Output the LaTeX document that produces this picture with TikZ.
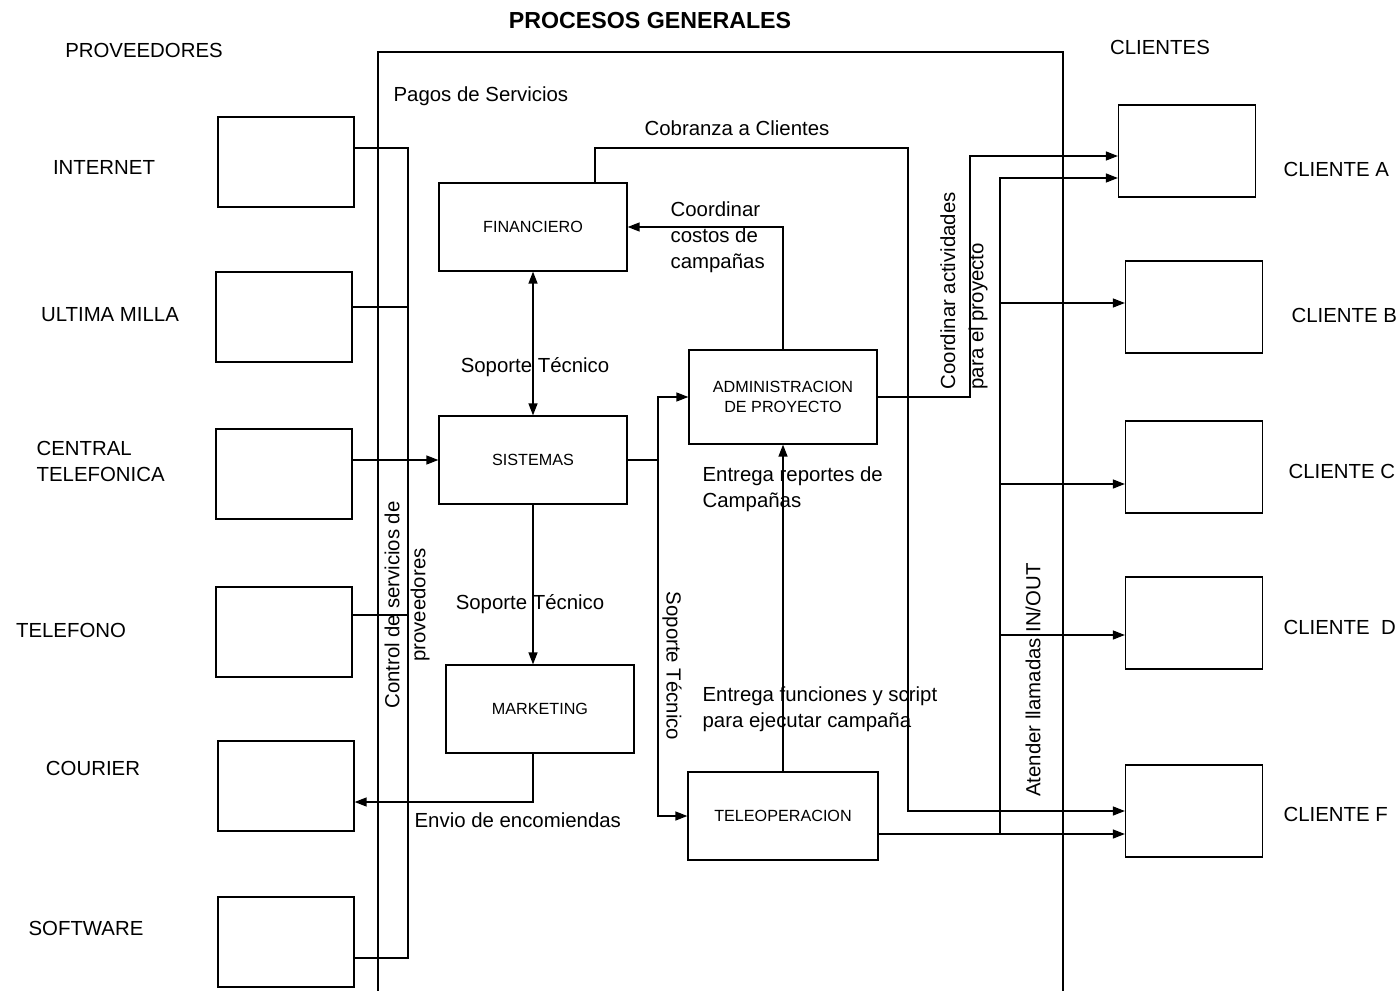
\documentclass[tikz,border=0pt]{standalone}
\usepackage{fontspec}
\setmainfont{Liberation Sans}
\usetikzlibrary{arrows.meta}

\begin{document}
\begin{tikzpicture}[x=0.025cm, y=-0.025cm, line width=0.9pt,
  font=\fontsize{14.5}{18.5}\selectfont,
  lbl/.style={inner sep=0pt},
  box/.style={draw, rectangle, inner sep=0pt, align=center,
    font=\fontsize{11.5}{14.5}\selectfont},
  prov/.style={box, minimum width=3.4cm, minimum height=2.25cm},
  proc/.style={box, minimum width=4.7cm, minimum height=2.2cm},
  cli/.style={box, minimum width=3.425cm, minimum height=2.3cm},
  arr/.style={-{Triangle[length=8.5pt,width=6.4pt]}},
  arr2/.style={{Triangle[length=8.5pt,width=6.4pt]}-{Triangle[length=8.5pt,width=6.4pt]}}]
  \useasboundingbox (0,0) rectangle (1400,991);

  % marco de los procesos generales
  \draw (378,991) -- (378,52) -- (1063,52) -- (1063,991);
  \node[lbl, font=\fontsize{16.5}{20}\selectfont\bfseries] (titulo) at (650,21) {PROCESOS GENERALES};
  \node[lbl] (proveedores) at (144,50) {PROVEEDORES};
  \node[lbl] (clientes) at (1160,47) {CLIENTES};

  % proveedores
  \node[prov] (pInternet) at (286,162) {};
  \node[prov] (pMilla)    at (284,317) {};
  \node[prov] (pCentral)  at (284,474) {};
  \node[prov] (pTelefono) at (284,632) {};
  \node[prov] (pCourier)  at (286,786) {};
  \node[prov] (pSoftware) at (286,942) {};
  \node[lbl] at (104,167) {INTERNET};
  \node[lbl] at (110,315) {ULTIMA MILLA};
  \node[lbl, anchor=west, align=left] at (36,461) {CENTRAL\\TELEFONICA};
  \node[lbl] at (71,630) {TELEFONO};
  \node[lbl] at (93,768) {COURIER};
  \node[lbl] at (86,928) {SOFTWARE};

  % procesos
  \node[proc] (fin) at (533,227) {FINANCIERO};
  \node[proc] (sis) at (533,460) {SISTEMAS};
  \node[proc] (mkt) at (540,709) {MARKETING};
  \node[proc, minimum height=2.35cm] (adm) at (783,397) {ADMINISTRACION\\DE PROYECTO};
  \node[proc, minimum width=4.75cm] (tel) at (783,816) {TELEOPERACION};

  % clientes
  \node[cli] (cA) at (1187,151) {};
  \node[cli] (cB) at (1194,307) {};
  \node[cli] (cC) at (1194,467) {};
  \node[cli] (cD) at (1194,623) {};
  \node[cli] (cF) at (1194,811) {};
  \node[lbl, anchor=west] at (1283,169) {CLIENTE A};
  \node[lbl, anchor=west] at (1291,315) {CLIENTE B};
  \node[lbl, anchor=west] at (1288,471) {CLIENTE C};
  \node[lbl, anchor=west] at (1283,627) {CLIENTE\ \ D};
  \node[lbl, anchor=west] at (1283,814) {CLIENTE F};

  % control de proveedores
  \coordinate (bInternet) at (408,148);
  \coordinate (bMilla)    at (408,307);
  \coordinate (bTelefono) at (408,615);
  \coordinate (bSoftware) at (408,958);
  \draw (pInternet.east |- bInternet) -- (bInternet) -- (bSoftware) -- (pSoftware.east |- bSoftware);
  \draw (pMilla.east |- bMilla) -- (bMilla);
  \draw (pTelefono.east |- bTelefono) -- (bTelefono);
  \draw[arr] (pCentral.east |- sis.west) -- (sis.west);
  \node[lbl, rotate=90, align=center] (ctrl) at (407,605) {Control de servicios de\\proveedores};
  \node[lbl, anchor=west] at (393,96) {Pagos de Servicios};

  % soporte tecnico
  \draw[arr2] (fin.south) -- (sis.north);
  \node[lbl] at (535,367) {Soporte Técnico};
  \draw[arr] (sis.south) -- (sis.south |- mkt.north);
  \node[lbl] at (530,604) {Soporte Técnico};
  \coordinate (stx) at (658,460);
  \draw[arr] (sis.east) -- (stx) -- (stx |- adm.west) -- (adm.west);
  \draw[arr] (stx) -- (stx |- tel.west) -- (tel.west);
  \node[lbl, rotate=-90] at (672,666) {Soporte Técnico};

  % envio de encomiendas
  \coordinate (envio) at (533,802);
  \draw[arr] (envio |- mkt.south) -- (envio) -- (pCourier.east |- envio);
  \node[lbl, anchor=west] at (414,820) {Envio de encomiendas};

  % teleoperacion y administracion
  \draw[arr] (tel.north) -- (adm.south);
  \node[lbl, anchor=west, align=left] at (702,489) {Entrega reportes de\\Campañas};
  \node[lbl, anchor=west, align=left] at (702,709) {Entrega funciones y script\\para ejecutar campaña};
  \draw[arr] (adm.north) -- (adm.north |- fin.east) -- (fin.east);
  \node[lbl, anchor=west, align=left] at (670,237) {Coordinar\\costos de\\campañas};

  % cobranza
  \coordinate (cobA) at (595,148);
  \coordinate (cobB) at (908,148);
  \draw[arr] (cobA |- fin.north) -- (cobA) -- (cobB) -- (cobB |- cF.west) -- (cF.west);
  \node[lbl] at (737,128) {Cobranza a Clientes};

  % coordinar actividades
  \coordinate (coA) at (970,156);
  \draw[arr] (adm.east) -- (adm.east -| coA) -- (coA) -- (cA.west |- coA);
  \node[lbl, rotate=90, anchor=west, align=left, font=\fontsize{14.5}{20}\selectfont] at (964,390) {Coordinar actividades\\para el proyecto};

  % atender llamadas
  \coordinate (atA) at (1000,178);
  \coordinate (atF) at (1000,834);
  \draw[arr] (tel.east |- atF) -- (cF.west |- atF);
  \draw[arr] (atF) -- (atA) -- (cA.west |- atA);
  \foreach \c/\y in {B/303, C/484, D/635} {
    \coordinate (at\c) at (1000,\y);
    \draw[arr] (at\c) -- (c\c.west |- at\c);
  }
  \node[lbl, rotate=90] at (1033,680) {Atender llamadas IN/OUT};
\end{tikzpicture}
\end{document}
